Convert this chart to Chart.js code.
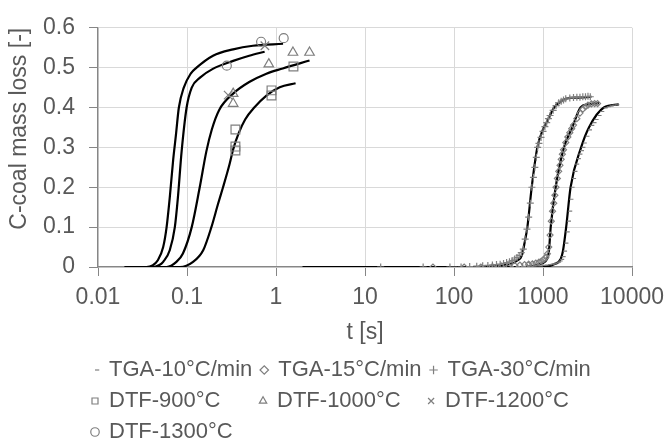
<!DOCTYPE html>
<html>
<head>
<meta charset="utf-8">
<script src="https://cdn.jsdelivr.net/npm/chart.js@4.4.0/dist/chart.umd.min.js"></script>
<style>
  html, body { margin: 0; padding: 0; background: #fff; }
</style>
</head>
<body>
<canvas id="myChart" width="672" height="440"></canvas>
<script>
//************* axis ticks *************
const xTickValues = [0.01, 0.1, 1, 10, 100, 1000, 10000];
const xTickLabels = ["0.01", "0.1", "1", "10", "100", "1000", "10000"];
const yTickValues = [0, 0.1, 0.2, 0.3, 0.4, 0.5, 0.6];
const yTickLabels = ["0", "0.1", "0.2", "0.3", "0.4", "0.5", "0.6"];

const seriesNames = ["TGA-10°C/min", "TGA-15°C/min", "TGA-30°C/min",
  "DTF-900°C", "DTF-1000°C", "DTF-1200°C", "DTF-1300°C"];

//************* TGA measured points (t [s], mass loss) *************
const tga10T = [98, 180, 260, 340, 420, 500, 580, 660, 740, 820, 900, 980, 1060, 1140, 1220, 1300, 1380, 1440, 1500, 1560,
  1620, 1680, 1740, 1800, 1860, 1920, 1980, 2040, 2120, 2200, 2300, 2400, 2500, 2600, 2700, 2800, 3000, 3200, 3400, 3600,
  3800, 4100, 4400, 4800, 5200, 5600, 6000, 6500];
const tga10V = [0, 0, 0, 0, 0, 0.001, 0.001, 0.002, 0.002, 0.003, 0.003, 0.004, 0.005, 0.006, 0.007, 0.008, 0.01, 0.012, 0.015, 0.019,
  0.026, 0.04, 0.06, 0.088, 0.115, 0.14, 0.17, 0.2, 0.222, 0.24, 0.258, 0.272, 0.283, 0.292, 0.3, 0.311, 0.328, 0.344, 0.355, 0.362,
  0.37, 0.38, 0.39, 0.399, 0.402, 0.404, 0.406, 0.407];

const tga15T = [58, 130, 200, 270, 340, 410, 480, 550, 620, 690, 760, 830, 900, 960, 1020, 1080, 1120, 1160, 1200, 1240,
  1280, 1320, 1360, 1400, 1450, 1500, 1550, 1600, 1650, 1700, 1800, 1900, 2000, 2100, 2200, 2400, 2600, 2800, 3000, 3200,
  3500, 3800, 4100];
const tga15V = [0, 0, 0, 0.001, 0.002, 0.003, 0.004, 0.005, 0.006, 0.007, 0.008, 0.01, 0.012, 0.015, 0.019, 0.025, 0.033, 0.05, 0.08, 0.115,
  0.14, 0.16, 0.18, 0.2, 0.222, 0.24, 0.255, 0.27, 0.283, 0.294, 0.312, 0.326, 0.337, 0.347, 0.356, 0.372, 0.386, 0.396, 0.402, 0.406,
  0.409, 0.41, 0.41];

const tga30T = [15, 45, 90, 120, 150, 180, 210, 240, 270, 300, 330, 360, 390, 420, 450, 480, 510, 540, 570, 600,
  630, 660, 690, 720, 750, 780, 810, 840, 870, 900, 950, 1000, 1050, 1100, 1150, 1200, 1300, 1400, 1500, 1600,
  1700, 1800, 2000, 2200, 2400, 2600, 2800, 3000, 3200, 3400];
const tga30V = [0, 0, 0, 0, 0.001, 0.002, 0.003, 0.004, 0.005, 0.006, 0.007, 0.009, 0.011, 0.013, 0.016, 0.02, 0.024, 0.029, 0.036, 0.045,
  0.07, 0.095, 0.125, 0.16, 0.2, 0.225, 0.25, 0.275, 0.3, 0.31, 0.325, 0.34, 0.352, 0.362, 0.372, 0.38, 0.393, 0.405, 0.412, 0.416,
  0.419, 0.422, 0.424, 0.425, 0.426, 0.426, 0.427, 0.427, 0.428, 0.427];

//************* DTF measured points *************
const dtf900T = [0.35, 0.35, 0.35, 0.89, 0.89, 1.57];
const dtf900V = [0.345, 0.302, 0.292, 0.443, 0.43, 0.503];
const dtf1000T = [0.33, 0.33, 0.83, 1.55, 2.38];
const dtf1000V = [0.435, 0.41, 0.509, 0.538, 0.538];
const dtf1200T = [0.29, 0.75];
const dtf1200V = [0.431, 0.555];
const dtf1300T = [0.28, 0.68, 1.22];
const dtf1300V = [0.505, 0.565, 0.574];

//************* model curves *************
const fit1300T = [0.02, 0.035, 0.041, 0.047, 0.054, 0.059, 0.064, 0.07, 0.075, 0.081, 0.092, 0.11, 0.128, 0.196, 0.33, 0.55, 1.2];
const fit1300V = [0, 0, 0.004, 0.017, 0.05, 0.1, 0.174, 0.27, 0.33, 0.4, 0.45, 0.485, 0.5, 0.53, 0.546, 0.555, 0.56];
const fit1200T = [0.02, 0.04, 0.049, 0.054, 0.064, 0.073, 0.079, 0.087, 0.099, 0.113, 0.14, 0.195, 0.33, 0.5, 0.745];
const fit1200V = [0, 0, 0.005, 0.013, 0.042, 0.1, 0.174, 0.29, 0.4, 0.45, 0.475, 0.497, 0.517, 0.53, 0.54];
const fit1000T = [0.02, 0.059, 0.076, 0.09, 0.113, 0.139, 0.165, 0.19, 0.23, 0.33, 0.5, 0.78, 1.19, 2.38];
const fit1000V = [0, 0, 0.013, 0.034, 0.1, 0.2, 0.29, 0.345, 0.394, 0.435, 0.464, 0.485, 0.498, 0.518];
const fit900T = [0.02, 0.083, 0.117, 0.152, 0.188, 0.223, 0.254, 0.3, 0.33, 0.38, 0.45, 0.57, 0.78, 1.1, 1.66];
const fit900V = [0, 0, 0.013, 0.042, 0.1, 0.158, 0.2, 0.257, 0.295, 0.335, 0.37, 0.4, 0.43, 0.451, 0.461];

const fitTga30T = [2, 200, 300, 420, 520, 580, 620, 667, 746, 863, 1000, 1110, 1330, 1585, 1800, 2500, 3500];
const fitTga30V = [0, 0, 0.003, 0.007, 0.017, 0.03, 0.06, 0.1, 0.2, 0.3, 0.345, 0.365, 0.4, 0.415, 0.422, 0.425, 0.427];
const fitTga15T = [2, 600, 900, 1110, 1167, 1220, 1387, 1720, 2130, 2640, 3200, 4250];
const fitTga15V = [0, 0, 0.007, 0.02, 0.042, 0.1, 0.2, 0.3, 0.35, 0.4, 0.408, 0.411];
const fitTga10T = [2, 1000, 1330, 1580, 1675, 1820, 2040, 2680, 3280, 4830, 7100];
const fitTga10V = [0, 0, 0.007, 0.02, 0.04, 0.1, 0.2, 0.3, 0.35, 0.4, 0.408];
//**************************************

const fontFamily = '"Liberation Sans", Arial, sans-serif';
const textColor = "#595959";
const markerColor = "#7f7f7f";
const legendFontSize = 22;

const pts = (ts, vs) => ts.map((t, i) => ({ x: t, y: vs[i] }));

const marker = (label, ts, vs, style, radius) => ({
  label: label,
  data: pts(ts, vs),
  showLine: false,
  pointStyle: style,
  pointRadius: radius,
  pointHoverRadius: radius,
  borderColor: markerColor,
  backgroundColor: "rgba(0,0,0,0)",
  pointBorderWidth: 1.2,
  borderWidth: 1.2,
});

const model = (label, ts, vs) => ({
  label: label,
  data: pts(ts, vs),
  showLine: true,
  pointRadius: 0,
  borderColor: "#000",
  backgroundColor: "#000",
  borderWidth: 2.2,
  cubicInterpolationMode: "monotone",
});

const datasets = [
  marker(seriesNames[0], tga10T, tga10V, "dash", 4),
  marker(seriesNames[1], tga15T, tga15V, "rectRot", 3),
  marker(seriesNames[2], tga30T, tga30V, "cross", 3.5),
  marker(seriesNames[3], dtf900T, dtf900V, "rect", 6.2),
  marker(seriesNames[4], dtf1000T, dtf1000V, "triangle", 5.5),
  marker(seriesNames[5], dtf1200T, dtf1200V, "crossRot", 6),
  marker(seriesNames[6], dtf1300T, dtf1300V, "circle", 4.5),
  model("fit-1300", fit1300T, fit1300V),
  model("fit-1200", fit1200T, fit1200V),
  model("fit-1000", fit1000T, fit1000V),
  model("fit-900", fit900T, fit900V),
  model("fit-tga30", fitTga30T, fitTga30V),
  model("fit-tga15", fitTga15T, fitTga15V),
  model("fit-tga10", fitTga10T, fitTga10V),
];

// move legend rows so they start under the axis labels
const legendShift = {
  id: "legendShift",
  afterLayout(chart) {
    chart.legend.left = 83;
  },
};

const config = {
  type: "scatter",
  data: { datasets: datasets },
  options: {
    responsive: false,
    animation: false,
    layout: { padding: { top: 25, right: 39, left: 0, bottom: 0 } },
    scales: {
      x: {
        type: "logarithmic",
        min: 0.01,
        max: 10000,
        afterFit(scale) { scale.height = 83; },
        afterBuildTicks(scale) { scale.ticks = xTickValues.map((v) => ({ value: v })); },
        ticks: {
          color: textColor,
          font: { family: fontFamily, size: 23 },
          padding: 8,
          maxRotation: 0,
          autoSkip: false,
          callback: (v, i) => xTickLabels[i],
        },
        grid: { color: "#d9d9d9", tickColor: "#868686", tickLength: 9, lineWidth: 1 },
        border: { color: "#868686", width: 1.3 },
        title: {
          display: true,
          text: "t [s]",
          color: textColor,
          font: { family: fontFamily, size: 23 },
          padding: { top: 0, bottom: 4 },
        },
      },
      y: {
        min: 0,
        max: 0.6,
        afterFit(scale) { scale.width = 98; },
        afterBuildTicks(scale) { scale.ticks = yTickValues.map((v) => ({ value: v })); },
        ticks: {
          color: textColor,
          font: { family: fontFamily, size: 23 },
          padding: 14,
          callback: (v, i) => yTickLabels[i],
        },
        grid: { color: "#d9d9d9", tickColor: "#868686", tickLength: 9, lineWidth: 1 },
        border: { color: "#868686", width: 1.3 },
        title: {
          display: true,
          text: "C-coal mass loss [-]",
          align: "end",
          color: textColor,
          font: { family: fontFamily, size: 23 },
          padding: { top: 6, bottom: 0 },
        },
      },
    },
    plugins: {
      tooltip: { enabled: false },
      legend: {
        position: "bottom",
        align: "start",
        maxHeight: 90,
        labels: {
          color: textColor,
          font: { family: fontFamily, size: legendFontSize },
          usePointStyle: true,
          boxWidth: 6,
          boxHeight: 6,
          padding: 9,
          filter: (item) => item.datasetIndex < seriesNames.length,
          generateLabels(chart) {
            const items = Chart.defaults.plugins.legend.labels.generateLabels(chart);
            const ctx = chart.ctx;
            ctx.save();
            ctx.font = legendFontSize + "px " + fontFamily;
            const named = items.filter((it) => it.datasetIndex < seriesNames.length);
            const colW = Math.max(...named.map((it) => ctx.measureText(it.text).width));
            //pad shorter names so the legend lines up in columns
            named.forEach((it) => {
              while (ctx.measureText(it.text + " ").width <= colW + 1) it.text += " ";
            });
            ctx.restore();
            return items;
          },
        },
      },
    },
  },
  plugins: [legendShift],
};

const myChart = new Chart(document.getElementById("myChart"), config);
</script>
</body>
</html>
